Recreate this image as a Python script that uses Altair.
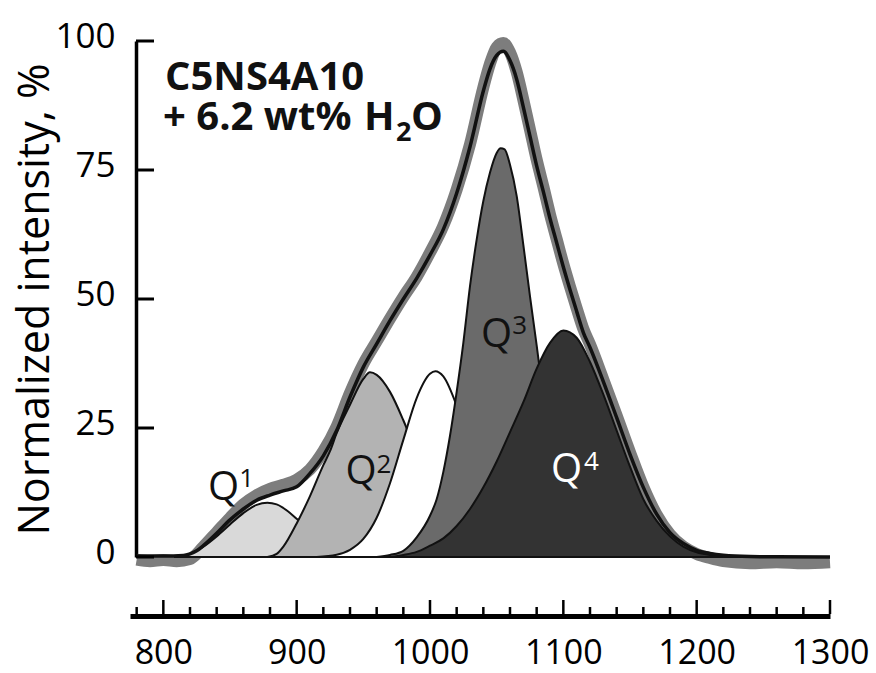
import altair as alt
import pandas as pd

FONT = "Open Sans"

# ---- measured spectrum (thick grey band) ----
data_x = [780, 790, 800, 810, 820, 830, 840, 850, 860, 870, 880, 890, 900, 910, 920, 930, 940, 950,
          960, 970, 980, 990, 1000, 1010, 1020, 1030, 1040, 1045, 1050, 1055, 1060, 1065, 1070, 1075,
          1080, 1085, 1090, 1095, 1100, 1105, 1110, 1115, 1120, 1130, 1140, 1150, 1160, 1170, 1180,
          1190, 1200, 1210, 1220, 1240, 1260, 1280, 1300]
data_y = [-0.5, -0.8, -0.6, -0.8, -0.4, 2.0, 4.8, 7.6, 10.2, 12.0, 13.2, 14.0, 15.0, 17.0, 20.5, 25.3,
          31.8, 37.4, 41.8, 46.2, 50.4, 54.3, 59.0, 64.2, 71.2, 80.0, 91.0, 95.6, 98.8, 99.6, 97.8,
          94.0, 88.6, 82.8, 77.0, 71.8, 66.4, 61.6, 56.8, 52.4, 48.2, 44.2, 41.2, 34.4, 27.4, 20.3,
          13.6, 8.2, 4.4, 2.0, 0.6, -0.2, -0.8, -1.2, -1.0, -1.2, -1.0]

# ---- total fit (black line) ----
fit_x = [780, 800, 815, 820, 825, 830, 840, 850, 860, 870, 880, 890, 900, 910, 920, 930, 940, 950,
         960, 970, 980, 990, 1000, 1010, 1020, 1030, 1040, 1045, 1050, 1055, 1060, 1065, 1070, 1075,
         1080, 1085, 1090, 1095, 1100, 1105, 1110, 1115, 1120, 1130, 1140, 1150, 1160, 1170, 1180,
         1190, 1200, 1210, 1220, 1240, 1260, 1300]
fit_y = [0.2, 0.2, 0.3, 0.6, 1.2, 2.2, 4.6, 7.2, 9.3, 11.0, 12.0, 12.8, 13.6, 16.2, 19.6, 24.5, 31.0,
         36.8, 41.3, 45.8, 50.0, 54.0, 58.5, 63.5, 70.5, 79.5, 90.3, 94.6, 97.2, 98.0, 96.2, 92.6,
         87.2, 81.5, 75.8, 70.8, 65.6, 60.9, 56.2, 51.8, 47.6, 43.5, 40.6, 34.0, 27.0, 19.9, 13.5,
         8.3, 4.7, 2.6, 1.3, 0.7, 0.35, 0.1, 0.05, 0.0]

# ---- component bands ----
q1_x = [808, 820, 830, 840, 850, 860, 870, 878, 885, 890, 900, 910, 920, 930, 940, 950, 962]
q1_y = [0, 0.6, 2.0, 4.0, 6.3, 8.5, 10.1, 10.5, 10.2, 9.5, 7.4, 5.0, 3.0, 1.6, 0.7, 0.2, 0]

q2_x = [878, 885, 890, 900, 910, 920, 925, 930, 940, 950, 955, 960, 970, 980, 990, 1000, 1010,
        1020, 1030, 1040, 1055]
q2_y = [0, 0.6, 2.0, 6.5, 11.8, 17.8, 20.5, 24.0, 29.5, 34.5, 35.8, 35.3, 32.0, 26.5, 20.0, 13.5,
        8.0, 4.0, 1.8, 0.6, 0]

w_x = [915, 930, 940, 950, 960, 970, 980, 990, 1000, 1004, 1010, 1020, 1030, 1040, 1050, 1060,
       1070, 1085]
w_y = [0, 0.45, 1.4, 3.5, 7.6, 14.3, 22.7, 30.8, 35.5, 36.0, 35.0, 29.3, 21.0, 12.8, 6.6, 2.9, 1.1, 0]

q3_x = [960, 970, 980, 990, 1000, 1005, 1010, 1015, 1020, 1025, 1030, 1035, 1040, 1045, 1050, 1053,
        1056, 1060, 1065, 1070, 1075, 1080, 1085, 1090, 1095, 1100, 1110, 1120, 1130, 1140]
q3_y = [0, 0.4, 1.2, 3.8, 8.0, 11.2, 16.5, 23.5, 32.0, 41.5, 52.5, 61.5, 69.0, 74.5, 78.3, 79.2,
        79.0, 76.0, 70.0, 60.5, 50.5, 41.0, 31.0, 22.0, 15.0, 10.0, 4.0, 1.5, 0.5, 0]

q4_x = [970, 980, 990, 1000, 1010, 1020, 1030, 1040, 1050, 1060, 1070, 1080, 1090, 1100, 1110,
        1120, 1130, 1140, 1150, 1160, 1170, 1180, 1190, 1200, 1210, 1220, 1235]
q4_y = [0, 0.4, 1.0, 2.2, 3.6, 6.0, 9.3, 13.5, 18.5, 24.2, 30.0, 36.5, 41.5, 43.9, 42.5, 37.8,
        31.5, 24.5, 17.5, 11.2, 7.0, 4.0, 2.0, 0.9, 0.4, 0.15, 0]

# ---- labels ----
q_names = ["Q", "Q", "Q", "Q"]
q_sup = ["1", "2", "3", "4"]
q_lab_x = [845.1, 948.3, 1050.0, 1102.5]
q_lab_y = [13.4, 16.4, 43.0, 16.9]
q_sup_x = [862.5, 965.5, 1067.3, 1121.0]
q_sup_y = [15.2, 17.8, 44.8, 18.4]
q_colors = ["#111111", "#111111", "#111111", "#ffffff"]

note_parts = ["C5NS4A10", "+ 6.2 wt%", "H", "2", "O"]

x_major = [800, 900, 1000, 1100, 1200, 1300]
x_minor = [780, 820, 840, 860, 880, 920, 940, 960, 980, 1020, 1040, 1060, 1080, 1120, 1140, 1160,
           1180, 1220, 1240, 1260, 1280]
y_ticks = [0, 25, 50, 75, 100]

W, H = 700, 516

X = alt.X("x:Q", scale=alt.Scale(domain=[775, 1300], nice=False, zero=False),
          axis=alt.Axis(values=x_major, format="d", title=None, grid=False, ticks=False, tickSize=0,
                        domain=True, domainColor="black", domainWidth=5, offset=59,
                        labelFont=FONT, labelFontSize=34, labelColor="black", labelPadding=20,
                        labelFlush=False, labelOverlap=False))
Y = alt.Y("y:Q", scale=alt.Scale(domain=[0, 100], nice=False, zero=False),
          axis=alt.Axis(values=y_ticks, format="d", title="Normalized intensity, %", grid=False,
                        ticks=False, tickSize=0, domain=True, domainColor="black", domainWidth=3.5,
                        offset=-6, labelFont=FONT, labelFontSize=35, labelColor="black",
                        labelPadding=21, labelOffset=-5, labelFlush=False, labelOverlap=False,
                        titleFont=FONT, titleFontSize=43, titleFontWeight="normal",
                        titleColor="black", titlePadding=-3))


def frame(xs, ys):
    return pd.DataFrame({"x": xs, "y": ys})


gray = alt.Chart(frame(data_x, data_y)).mark_line(
    color="#7d7d7d", strokeWidth=12, interpolate="monotone", strokeJoin="round"
).encode(x=X, y=Y)


def band(xs, ys, fill):
    return alt.Chart(frame(xs, ys)).mark_area(
        fill=fill, stroke="#111111", strokeWidth=2, interpolate="monotone", fillOpacity=1
    ).encode(x=X, y=Y)


q1 = band(q1_x, q1_y, "#d9d9d9")
q2 = band(q2_x, q2_y, "#b3b3b3")
wpk = band(w_x, w_y, "#ffffff")
q3 = band(q3_x, q3_y, "#6a6a6a")
q4 = band(q4_x, q4_y, "#333333")

fit = alt.Chart(frame(fit_x, fit_y)).mark_line(
    color="#111111", strokeWidth=3.5, interpolate="monotone"
).encode(x=X, y=Y)

lab_df = pd.DataFrame({"x": q_lab_x, "y": q_lab_y, "t": q_names, "c": q_colors})
sup_df = pd.DataFrame({"x": q_sup_x, "y": q_sup_y, "t": q_sup, "c": q_colors})
q_text = alt.Chart(lab_df).mark_text(font=FONT, fontSize=40, baseline="middle", align="center").encode(
    x=X, y=Y, text="t:N", color=alt.Color("c:N", scale=None))
s_text = alt.Chart(sup_df).mark_text(font=FONT, fontSize=26, baseline="middle", align="center").encode(
    x=X, y=Y, text="t:N", color=alt.Color("c:N", scale=None))

# inward tick marks
yt = alt.Chart(pd.DataFrame({"y": y_ticks})).mark_rule(color="black", strokeWidth=3).encode(
    y=Y, x=alt.value(6), x2=alt.value(24))
xt_major = alt.Chart(pd.DataFrame({"x": x_major})).mark_rule(color="black", strokeWidth=2.5).encode(
    x=X, y=alt.value(H + 57), y2=alt.value(H + 43))
xt_minor = alt.Chart(pd.DataFrame({"x": x_minor})).mark_rule(color="black", strokeWidth=2.5).encode(
    x=X, y=alt.value(H + 57), y2=alt.value(H + 50))


# sample annotation (pieces so the subscript can sit low)
def note(text, px, py, size):
    return alt.Chart(pd.DataFrame({"t": [text]})).mark_text(
        font=FONT, fontSize=size, fontWeight="bold", align="left", baseline="alphabetic",
        color="#111111"
    ).encode(text="t:N", x=alt.value(px), y=alt.value(py))


t1 = note(note_parts[0], 35, 49, 40)
t2 = note(note_parts[1], 33, 89, 40)
t3 = note(note_parts[2], 234, 89, 40)
t4 = note(note_parts[3], 266, 100, 27)
t5 = note(note_parts[4], 281, 89, 40)

chart = alt.layer(
    gray, q1, q2, wpk, q3, q4, fit, q_text, s_text, yt, xt_major, xt_minor,
    t1, t2, t3, t4, t5
).properties(
    width=W, height=H,
    padding={"left": 130, "top": 41, "right": 46, "bottom": 116},
    autosize=alt.AutoSizeParams(type="none"),
    background="white",
).configure_view(strokeWidth=0)

chart.save("out.html", embed_options={"renderer": "svg", "actions": False})
